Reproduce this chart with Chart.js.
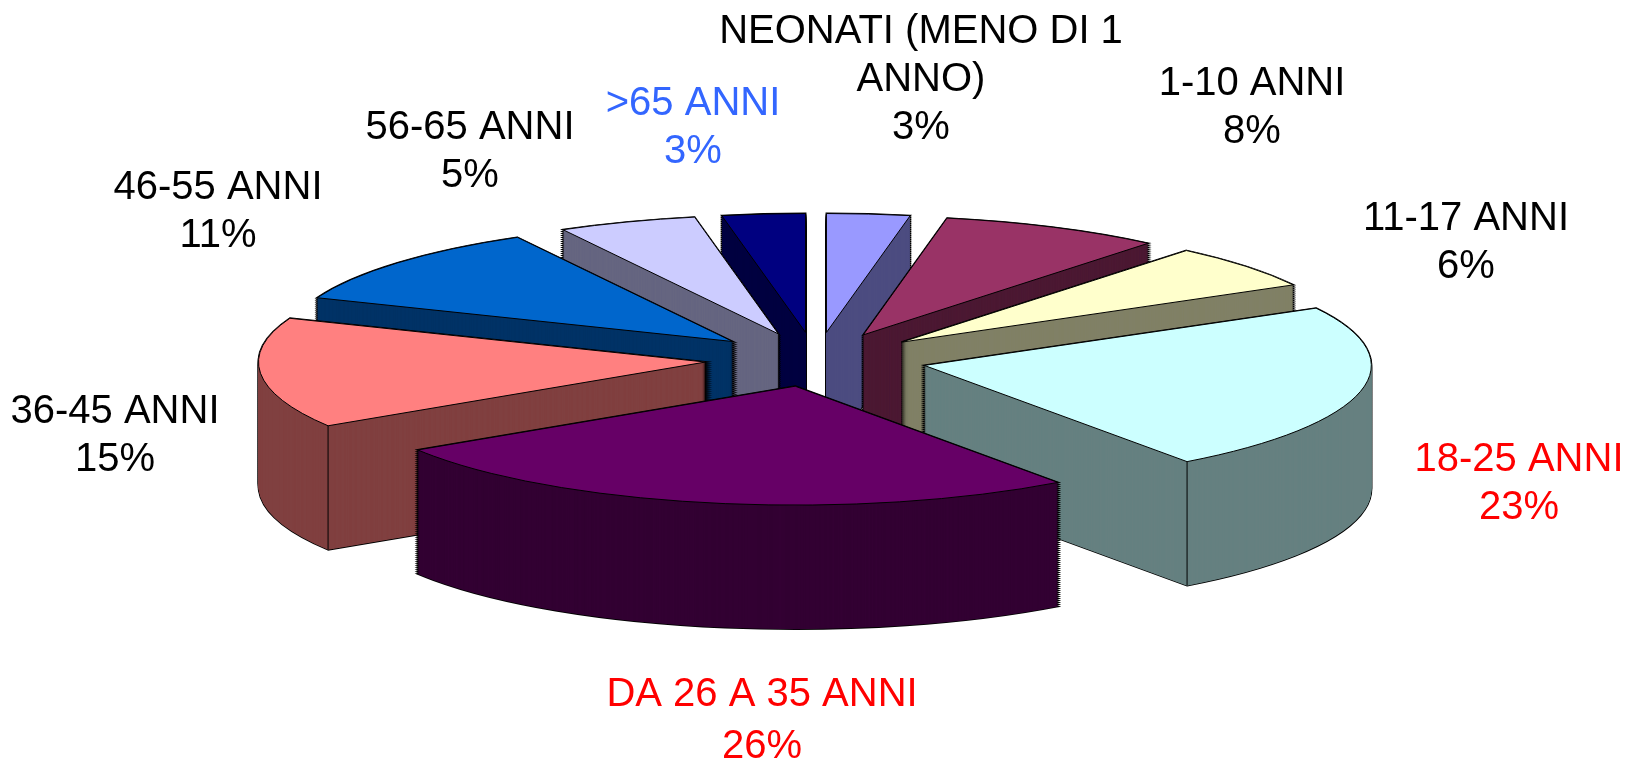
<!DOCTYPE html>
<html>
<head>
<meta charset="utf-8">
<title>Fasce di eta</title>
<script src="https://cdn.jsdelivr.net/npm/chart.js@4"></script>
<style>
  html, body { margin: 0; padding: 0; background: #fff; }
  canvas { display: block; }
</style>
</head>
<body>
<canvas id="myChart" width="1627" height="762"></canvas>
<script>
    // data, clockwise from 12 o'clock
    const categories = ['NEONATI (MENO DI 1 ANNO)', '1-10 ANNI', '11-17 ANNI', '18-25 ANNI', 'DA 26 A 35 ANNI', '36-45 ANNI', '46-55 ANNI', '56-65 ANNI', '>65 ANNI'];
    const percents = [3, 8, 6, 23, 26, 15, 11, 5, 3];

    const topColors = ['#9999FF', '#993366', '#FFFFCC', '#CCFFFF', '#660066', '#FF8080', '#0066CC', '#CCCCFF', '#000080'];
    const sideColors = ['#4C4C80', '#4C1933', '#808066', '#668080', '#330033', '#804040', '#003366', '#666680', '#000040'];

    // label text placement
    const labelLines = [['NEONATI (MENO DI 1', 'ANNO)'], ['1-10 ANNI'], ['11-17 ANNI'], ['18-25 ANNI'], ['DA 26 A 35 ANNI'], ['36-45 ANNI'], ['46-55 ANNI'], ['56-65 ANNI'], ['>65 ANNI']];
    const labelColors = ['#000', '#000', '#000', '#FF0000', '#FF0000', '#000', '#000', '#000', '#3366FF'];
    const labelX = [921, 1252, 1466, 1519, 762, 115, 218, 470, 693];
    const labelY = [32, 84, 219, 460, 695, 412, 188, 128, 104];
    const lineGap = [48, 48, 48, 48, 52, 48, 48, 48, 48];

    // fake 3d view of the pie
    const view = { cx: 816, cy: 359.5, radius: 447, tilt: 0.266, explode: 111, explodeTilt: 0.245, depth: 124 };

    function sliceOrigin(arc) {
      const mid = (arc.startAngle + arc.endAngle) / 2;
      return { x: view.cx + Math.cos(mid) * view.explode, y: view.cy + Math.sin(mid) * view.explode * view.explodeTilt };
    }

    function place(ctx, arc, z) {
      const o = sliceOrigin(arc);
      const s = view.radius / arc.outerRadius;
      ctx.translate(o.x, o.y + z);
      ctx.scale(s, s * view.tilt);
      ctx.translate(-arc.x, -arc.y);
    }

    // path is kept in device space so the stroke stays even after restore
    function outline(ctx, arc, z) {
      ctx.save();
      place(ctx, arc, z);
      ctx.beginPath();
      ctx.moveTo(arc.x, arc.y);
      ctx.arc(arc.x, arc.y, arc.outerRadius, arc.startAngle, arc.endAngle);
      ctx.closePath();
      ctx.restore();
      ctx.stroke();
    }

    function drawArc(ctx, arc, z, color) {
      const own = arc.options;
      arc.options = { ...own, backgroundColor: color };
      ctx.save();
      place(ctx, arc, z);
      arc.draw(ctx);
      ctx.restore();
      arc.options = own;
    }

    // vertical line at a corner, only where two front walls meet
    function crease(ctx, arc, radius, angle) {
      const o = sliceOrigin(arc);
      const x = o.x + Math.cos(angle) * radius;
      const y = o.y + Math.sin(angle) * radius * view.tilt;
      ctx.beginPath();
      ctx.moveTo(x, y);
      ctx.lineTo(x, y + view.depth);
      ctx.stroke();
    }

    const pie3d = {
      id: 'pie3d',
      beforeDatasetDraw(chart) {
        const ctx = chart.ctx;
        const arcs = chart.getDatasetMeta(0).data.map((arc, i) => ({ arc, i }));
        // back slices first
        arcs.sort((a, b) => Math.sin((a.arc.startAngle + a.arc.endAngle) / 2) - Math.sin((b.arc.startAngle + b.arc.endAngle) / 2));

        ctx.save();
        ctx.strokeStyle = '#000';
        arcs.forEach(({ arc, i }) => {
          // silhouette: black layers, then the fill leaves only the edge
          ctx.lineWidth = 1.8;
          for (let z = view.depth; z >= 0; z -= 2) outline(ctx, arc, z);
          for (let z = view.depth; z >= 0; z -= 0.5) drawArc(ctx, arc, z, sideColors[i]);

          ctx.lineWidth = 1;
          const s = arc.startAngle, e = arc.endAngle;
          if (Math.sin(s) > 0 && Math.cos(s) < 0) crease(ctx, arc, view.radius, s);
          if (Math.sin(e) > 0 && Math.cos(e) > 0) crease(ctx, arc, view.radius, e);
          if (Math.cos(s) < 0 && Math.cos(e) > 0) crease(ctx, arc, 0, s);

          drawArc(ctx, arc, 0, topColors[i]);
          outline(ctx, arc, 0);
        });
        ctx.restore();
        return false;
      },
      afterDraw(chart) {
        const ctx = chart.ctx;
        ctx.save();
        ctx.font = '40px "Liberation Sans"';
        ctx.textAlign = 'center';
        ctx.textBaseline = 'middle';
        categories.forEach((name, i) => {
          ctx.fillStyle = labelColors[i];
          const lines = labelLines[i].concat(percents[i] + '%');
          lines.forEach((t, n) => ctx.fillText(t, labelX[i], labelY[i] + n * lineGap[i]));
        });
        ctx.restore();
      }
    };

    const myChart = new Chart(document.getElementById('myChart'), {
      type: 'pie',
      data: {
        labels: categories,
        datasets: [{ data: percents, backgroundColor: topColors, borderWidth: 0 }]
      },
      options: {
        responsive: false,
        animation: false,
        events: [],
        plugins: { legend: { display: false }, tooltip: { enabled: false } }
      },
      plugins: [pie3d]
    });
</script>
</body>
</html>
